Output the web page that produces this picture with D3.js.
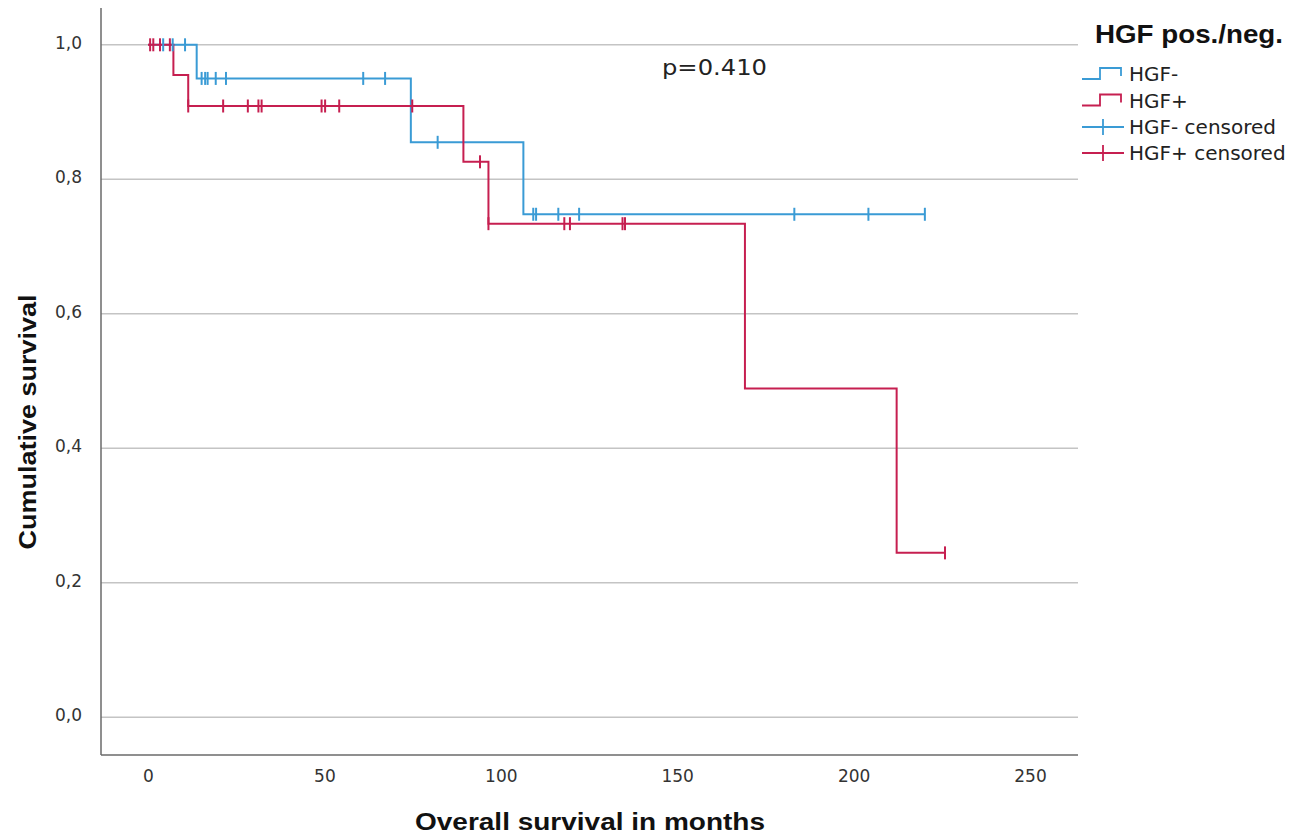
<!DOCTYPE html>
<html>
<head>
<meta charset="utf-8">
<script src="https://cdn.jsdelivr.net/npm/d3@7"></script>
<style>
  html, body { margin: 0; padding: 0; background: #fff; }
  svg { display: block; }
</style>
</head>
<body>
<svg id="chart" width="1309" height="837"></svg>
<script>
// ---------- data ----------
const xTicks = [0, 50, 100, 150, 200, 250];
const yTicks = [0, 0.2, 0.4, 0.6, 0.8, 1.0];
const yTickLabels = ["0,0", "0,2", "0,4", "0,6", "0,8", "1,0"];

// HGF- (blue)
const negEventTimes = [13.8, 74.5, 106.4];
const negSurvival   = [0.95, 0.855, 0.748];
const negEndTime    = 220.2;
const negCensored   = [4.3, 7.0, 10.5, 15.2, 16.2, 16.9, 19.2, 22.1, 61.0, 67.2, 82.1,
                       109.2, 110.0, 116.3, 122.2, 183.2, 204.2, 220.2];

// HGF+ (red)
const posEventTimes = [7.2, 11.4, 89.4, 96.5, 169.2, 212.2];
const posSurvival   = [0.955, 0.909, 0.826, 0.734, 0.489, 0.2445];
const posEndTime    = 225.9;
const posCensored   = [0.6, 1.5, 3.4, 6.2, 11.4, 21.3, 28.3, 31.3, 32.2, 49.2, 50.2, 54.2,
                       74.9, 94.1, 96.5, 118.0, 119.6, 134.5, 135.2, 225.9];

const legendLabels = ["HGF-", "HGF+", "HGF- censored", "HGF+ censored"];
const legendTitle = "HGF pos./neg.";
const pText = "p=0.410";

// ---------- layout ----------
const BLUE = "#3a9bd5";
const RED = "#c61f50";
const svg = d3.select("#chart");
const plotLeft = 101, plotRight = 1078, plotTop = 8, plotBottom = 755;

const x = d3.scaleLinear().domain([0, 250]).range([148, 1030]);
const y = d3.scaleLinear().domain([0, 1]).range([717.3, 44.8]);

// gridlines
svg.append("g").selectAll("line").data(yTicks).join("line")
  .attr("x1", plotLeft).attr("x2", plotRight)
  .attr("y1", d => y(d)).attr("y2", d => y(d))
  .attr("stroke", "#c4c4c4").attr("stroke-width", 1.5);

// axes lines
svg.append("line").attr("x1", plotLeft).attr("x2", plotLeft)
  .attr("y1", plotTop).attr("y2", plotBottom)
  .attr("stroke", "#6a6a6a").attr("stroke-width", 1.5);
svg.append("line").attr("x1", plotLeft).attr("x2", plotRight)
  .attr("y1", plotBottom).attr("y2", plotBottom)
  .attr("stroke", "#6a6a6a").attr("stroke-width", 1.5);

// x axis labels
const xAxis = d3.axisBottom(x).tickValues(xTicks).tickSize(0).tickPadding(0)
  .tickFormat(d3.format("d"));
const gx = svg.append("g").attr("transform", `translate(0,${plotBottom})`).call(xAxis);
gx.select(".domain").remove();
gx.selectAll("text").attr("dy", null).attr("y", 27)
  .attr("font-family", "DejaVu Sans, sans-serif").attr("font-size", 17)
  .attr("fill", "#333");

// y axis labels
const yAxis = d3.axisLeft(y).tickValues(yTicks).tickSize(0).tickPadding(0)
  .tickFormat((d, i) => yTickLabels[i]);
const gy = svg.append("g").attr("transform", `translate(82,0)`).call(yAxis);
gy.select(".domain").remove();
gy.selectAll("text").attr("x", 0).attr("dy", "0.2em")
  .attr("font-family", "DejaVu Sans, sans-serif").attr("font-size", 17)
  .attr("fill", "#333");

// axis titles
svg.append("text").attr("x", 590).attr("y", 830).attr("text-anchor", "middle")
  .attr("font-family", "Liberation Sans, Arial, sans-serif").attr("font-weight", "bold")
  .attr("font-size", 24).attr("fill", "#111")
  .attr("textLength", 350).attr("lengthAdjust", "spacingAndGlyphs")
  .text("Overall survival in months");
svg.append("text").attr("transform", "translate(36,422) rotate(-90)")
  .attr("text-anchor", "middle")
  .attr("font-family", "Liberation Sans, Arial, sans-serif").attr("font-weight", "bold")
  .attr("font-size", 24).attr("fill", "#111")
  .attr("textLength", 255).attr("lengthAdjust", "spacingAndGlyphs")
  .text("Cumulative survival");

// p value
svg.append("text").attr("x", 662).attr("y", 75)
  .attr("font-family", "DejaVu Sans, sans-serif").attr("font-size", 21).attr("fill", "#222")
  .attr("textLength", 105).attr("lengthAdjust", "spacingAndGlyphs")
  .text(pText);

// ---------- survival curves ----------
function stepPoints(times, surv, endTime) {
  const pts = [[0, 1]];
  times.forEach((t, i) => pts.push([t, surv[i]]));
  pts.push([endTime, surv[surv.length - 1]]);
  return pts;
}
function survAt(t, times, surv) {
  let s = 1;
  times.forEach((et, i) => { if (t >= et) s = surv[i]; });
  return s;
}
const stepLine = d3.line().x(d => x(d[0])).y(d => y(d[1])).curve(d3.curveStepAfter);

const series = [
  {times: negEventTimes, surv: negSurvival, end: negEndTime, cens: negCensored, color: BLUE},
  {times: posEventTimes, surv: posSurvival, end: posEndTime, cens: posCensored, color: RED}
];

series.forEach(s => {
  svg.append("path").datum(stepPoints(s.times, s.surv, s.end))
    .attr("d", stepLine).attr("fill", "none")
    .attr("stroke", s.color).attr("stroke-width", 2);
});
series.forEach(s => {
  svg.append("g").selectAll("line").data(s.cens).join("line")
    .attr("x1", d => x(d)).attr("x2", d => x(d))
    .attr("y1", d => y(survAt(d, s.times, s.surv)) - 6.5)
    .attr("y2", d => y(survAt(d, s.times, s.surv)) + 6.5)
    .attr("stroke", s.color).attr("stroke-width", 2);
});

// ---------- legend ----------
svg.append("text").attr("x", 1095).attr("y", 43)
  .attr("font-family", "Liberation Sans, Arial, sans-serif").attr("font-weight", "bold")
  .attr("font-size", 25).attr("fill", "#111")
  .attr("textLength", 188).attr("lengthAdjust", "spacingAndGlyphs")
  .text(legendTitle);

const rowY = [74, 100.5, 127, 153];
const legColors = [BLUE, RED, BLUE, RED];
legendLabels.forEach((lab, i) => {
  const cy = rowY[i];
  const g = svg.append("g");
  if (i < 2) {
    g.append("path")
      .attr("d", `M1082,${cy + 5}H1100V${cy - 6}H1121V${cy + 2}`)
      .attr("fill", "none").attr("stroke", legColors[i]).attr("stroke-width", 1.8);
  } else {
    g.append("line").attr("x1", 1082).attr("x2", 1124).attr("y1", cy).attr("y2", cy)
      .attr("stroke", legColors[i]).attr("stroke-width", 1.8);
    g.append("line").attr("x1", 1103).attr("x2", 1103).attr("y1", cy - 8).attr("y2", cy + 8)
      .attr("stroke", legColors[i]).attr("stroke-width", 1.8);
  }
  g.append("text").attr("x", 1129).attr("y", cy + 7)
    .attr("font-family", "DejaVu Sans, sans-serif").attr("font-size", 20).attr("fill", "#222")
    .text(lab);
});
</script>
</body>
</html>
